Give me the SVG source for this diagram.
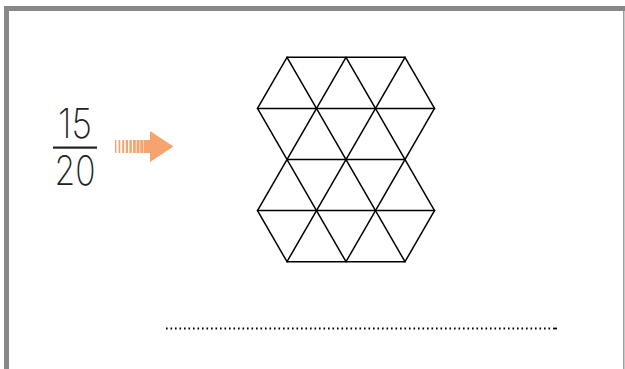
<svg xmlns="http://www.w3.org/2000/svg" width="625" height="369" viewBox="0 0 625 369">
<style>
.frame{fill:#888888}
.num{font-family:Inter,"DejaVu Sans",sans-serif;font-weight:200;font-size:41px;fill:#222}
.tri line{stroke:#000;stroke-width:1.5;stroke-linecap:round}
.arr{fill:#F6A46E}
</style>
<rect width="625" height="369" fill="#fff"/>
<g id="frame">
<rect class="frame" x="4" y="6" width="621" height="5"/>
<rect class="frame" x="4" y="6" width="5" height="363"/>
<line x1="623.8" y1="11" x2="623.8" y2="369" stroke="#9a9a9a" stroke-width="1.5"/>
</g>
<g id="fraction">
<text class="num" x="75" y="138" text-anchor="middle" textLength="34" lengthAdjust="spacingAndGlyphs">15</text>
<rect x="53" y="146.5" width="44" height="2.2" fill="#222"/>
<text class="num" x="75" y="185" text-anchor="middle" textLength="41" lengthAdjust="spacingAndGlyphs">20</text>
</g>
<g id="arrow" class="arr">
<rect x="115" y="140" width="1.4" height="13"/>
<rect x="118.6" y="140" width="1.7" height="13"/>
<rect x="122.2" y="140" width="2" height="13"/>
<rect x="125.8" y="140" width="2.2" height="13"/>
<rect x="129.4" y="140" width="2.5" height="13"/>
<rect x="133" y="140" width="2.8" height="13"/>
<rect x="136.6" y="140" width="3" height="13"/>
<rect x="140.2" y="140" width="3.3" height="13"/>
<polygon points="144,140 150,140 150,131 173.5,146.5 150,162 150,153 144,153"/>
</g>
<g id="grid" class="tri">
<line x1="287" y1="57.3" x2="405" y2="57.3"/>
<line x1="257.5" y1="108.4" x2="434.5" y2="108.4"/>
<line x1="287" y1="159.5" x2="405" y2="159.5"/>
<line x1="257.5" y1="210.6" x2="434.5" y2="210.6"/>
<line x1="287" y1="261.7" x2="405" y2="261.7"/>
<line x1="405" y1="57.3" x2="434.5" y2="108.4"/>
<line x1="346" y1="57.3" x2="434.5" y2="210.6"/>
<line x1="287" y1="57.3" x2="405" y2="261.7"/>
<line x1="257.5" y1="108.4" x2="346" y2="261.7"/>
<line x1="257.5" y1="210.6" x2="287" y2="261.7"/>
<line x1="287" y1="57.3" x2="257.5" y2="108.4"/>
<line x1="346" y1="57.3" x2="257.5" y2="210.6"/>
<line x1="405" y1="57.3" x2="287" y2="261.7"/>
<line x1="434.5" y1="108.4" x2="346" y2="261.7"/>
<line x1="434.5" y1="210.6" x2="405" y2="261.7"/>
</g>
<g id="answer-line">
<line x1="166" y1="328.5" x2="553" y2="328.5" stroke="#000" stroke-width="1.8" stroke-dasharray="1.6 2.9"/>
<line x1="553" y1="328.5" x2="557" y2="328.5" stroke="#000" stroke-width="1.8"/>
</g>
</svg>
